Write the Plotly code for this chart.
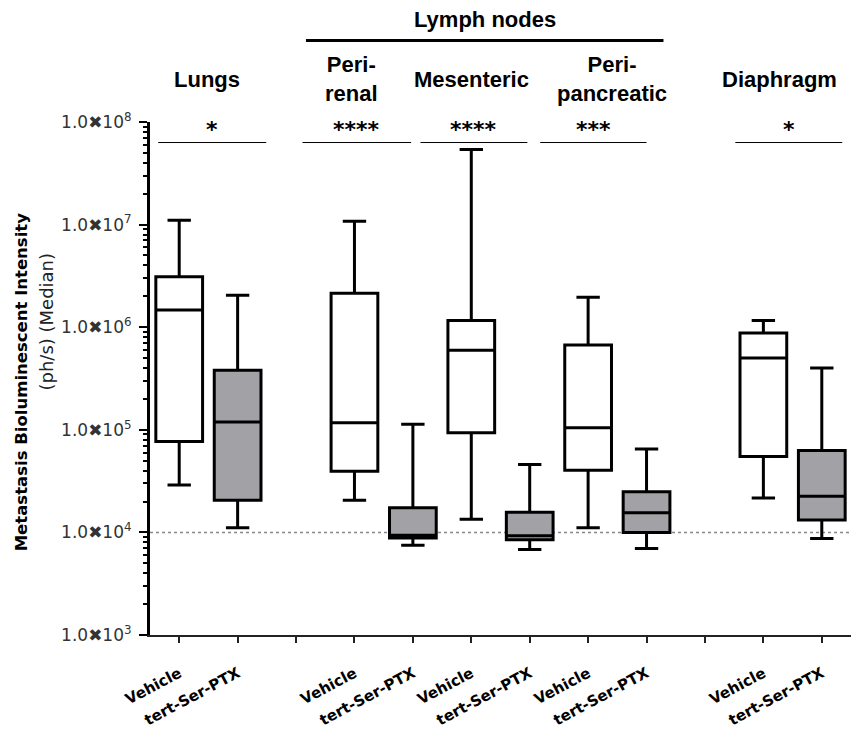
import plotly.graph_objects as go

# ---- data ----
tick_pos = list(range(12))
tick_text = ["Vehicle", "tert-Ser-PTX", "", "Vehicle", "tert-Ser-PTX", "Vehicle", "tert-Ser-PTX",
             "Vehicle", "tert-Ser-PTX", "", "Vehicle", "tert-Ser-PTX"]
groups = ["Lungs", "Peri-<br>renal", "Mesenteric", "Peri-<br>pancreatic", "Diaphragm"]
veh_x = [0, 3, 5, 7, 10]
tert_x = [1, 4, 6, 8, 11]

veh_low = [2.9e4, 2.06e4, 1.34e4, 1.11e4, 2.17e4]
veh_q1 = [7.7e4, 3.95e4, 9.35e4, 4.04e4, 5.5e4]
veh_med = [1.47e6, 1.17e5, 5.97e5, 1.05e5, 5.0e5]
veh_q3 = [3.1e6, 2.14e6, 1.16e6, 6.7e5, 8.8e5]
veh_high = [1.1e7, 1.08e7, 5.4e7, 1.96e6, 1.16e6]

tert_low = [1.11e4, 7.5e3, 6.8e3, 6.97e3, 8.7e3]
tert_q1 = [2.06e4, 8.8e3, 8.5e3, 1.0e4, 1.32e4]
tert_med = [1.19e5, 9.4e3, 9.3e3, 1.55e4, 2.25e4]
tert_q3 = [3.8e5, 1.74e4, 1.57e4, 2.49e4, 6.3e4]
tert_high = [2.05e6, 1.13e5, 4.6e4, 6.5e4, 4.0e5]

sig_text = ["*", "****", "****", "***", "*"]
sig_x0 = [-0.36, 2.11, 4.13, 6.18, 9.52]
sig_x1 = [1.49, 3.97, 5.96, 8.0, 11.35]
header_x = [0.48, 2.95, 5.0, 7.41, 10.27]

y_tickvals = [1e3, 1e4, 1e5, 1e6, 1e7, 1e8]
y_ticktext = ["1.0\u271610<sup>%d</sup>" % e for e in range(3, 9)]

threshold = 1e4

fig = go.Figure()
common = dict(width=0.8, whiskerwidth=0.5, line=dict(color="black", width=3),
              showlegend=False, hoverinfo="skip")
fig.add_trace(go.Box(x=veh_x, lowerfence=veh_low, q1=veh_q1, median=veh_med,
                     q3=veh_q3, upperfence=veh_high, fillcolor="white", **common))
fig.add_trace(go.Box(x=tert_x, lowerfence=tert_low, q1=tert_q1, median=tert_med,
                     q3=tert_q3, upperfence=tert_high, fillcolor="#a2a2a6", **common))

# dotted threshold line
fig.add_shape(type="line", xref="x", yref="y", x0=-0.5, x1=11.5, y0=threshold, y1=threshold,
              line=dict(color="#888", width=1.5, dash="dot"), layer="below")

# significance brackets
for t, a, b in zip(sig_text, sig_x0, sig_x1):
    fig.add_shape(type="line", xref="x", yref="paper", x0=a, x1=b, y0=0.96, y1=0.96,
                  line=dict(color="black", width=1))
    fig.add_annotation(x=(a + b) / 2, y=0.958, xref="x", yref="paper", text=t,
                       showarrow=False, yanchor="bottom", xanchor="center",
                       font=dict(family="DejaVu Sans", size=22, color="black", weight="bold"))

# group headers
for g, hx in zip(groups, header_x):
    fig.add_annotation(x=hx, y=1.083, xref="x", yref="paper", text=g, showarrow=False,
                       yanchor="middle", xanchor="center",
                       font=dict(family="Liberation Sans", size=22, color="black", weight="bold"))
fig.add_annotation(x=5.24, y=1.2, xref="x", yref="paper", text="Lymph nodes", showarrow=False,
                   yanchor="middle", xanchor="center",
                   font=dict(family="Liberation Sans", size=22, color="black", weight="bold"))
fig.add_shape(type="line", xref="x", yref="paper", x0=2.17, x1=8.29, y0=1.159, y1=1.159,
              line=dict(color="black", width=3))

# y-axis title (two lines)
fig.add_annotation(x=-0.183, y=0.494, xref="paper", yref="paper", xanchor="center",
                   yanchor="middle",
                   text="Metastasis Bioluminescent Intensity", textangle=-90, showarrow=False,
                   font=dict(family="DejaVu Sans", size=16.5, color="black", weight="bold"))
fig.add_annotation(x=-0.147, y=0.611, xref="paper", yref="paper", xanchor="center",
                   yanchor="middle",
                   text="(ph/s) (Median)", textangle=-90, showarrow=False,
                   font=dict(family="DejaVu Sans", size=18, color="#222"))

fig.update_layout(
    width=853, height=739,
    margin=dict(l=150, r=2, t=122, b=104),
    plot_bgcolor="white", paper_bgcolor="white",
    xaxis=dict(range=[-0.5, 11.5], tickvals=tick_pos, ticktext=tick_text, tickangle=-28,
               showline=True, linecolor="#222", linewidth=2, ticks="outside", ticklen=6,
               tickwidth=2, tickcolor="#222", showgrid=False, zeroline=False,
               ticklabelstandoff=16,
               tickfont=dict(family="DejaVu Sans", size=15, color="black", weight="bold")),
    yaxis=dict(type="log", range=[3, 8], tickvals=y_tickvals, ticktext=y_ticktext,
               showline=True, linecolor="black", linewidth=3, ticks="outside", ticklen=8,
               tickwidth=2, tickcolor="black", showgrid=False, zeroline=False,
               minor=dict(ticks="outside", ticklen=4, tickwidth=1.5, tickcolor="black",
                          dtick="D1", showgrid=False),
               ticklabelstandoff=4,
               tickfont=dict(family="DejaVu Sans", size=17, color="#333")),
)

fig.write_html("out.html")
